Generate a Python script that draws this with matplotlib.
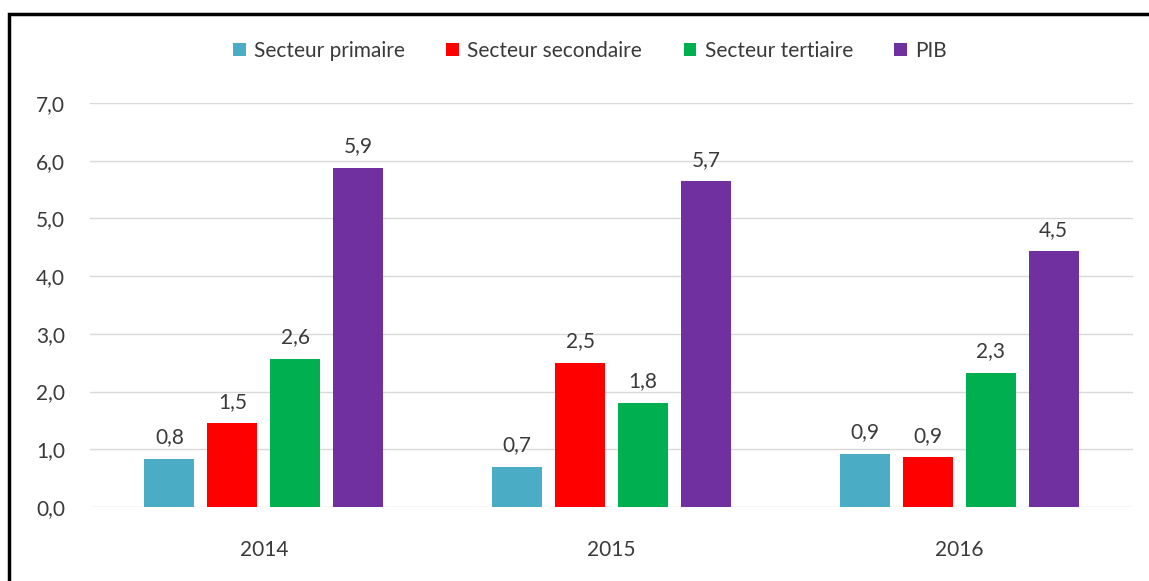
import numpy as np
import matplotlib
matplotlib.use('Agg')
import matplotlib.pyplot as plt
from matplotlib.patches import Rectangle

years = ['2014', '2015', '2016']
series = ['Secteur primaire', 'Secteur secondaire', 'Secteur tertiaire', 'PIB']
colors = ['#4bacc6', '#ff0000', '#00b050', '#7030a0']

primaire = [0.83, 0.70, 0.92]
secondaire = [1.45, 2.50, 0.86]
tertiaire = [2.57, 1.81, 2.33]
pib = [5.88, 5.64, 4.43]

labels_primaire = ['0,8', '0,7', '0,9']
labels_secondaire = ['1,5', '2,5', '0,9']
labels_tertiaire = ['2,6', '1,8', '2,3']
labels_pib = ['5,9', '5,7', '4,5']

values = [primaire, secondaire, tertiaire, pib]
labels = [labels_primaire, labels_secondaire, labels_tertiaire, labels_pib]

plt.rcParams['font.family'] = ['Lato', 'DejaVu Sans']
txt = '#3a3a3a'

fig = plt.figure(figsize=(11.49, 5.81), dpi=100)
ax = fig.add_axes([90/1149, 1 - 507/581, 1043/1149, 404/581])

x = np.arange(len(years))
w = 0.144
step = 0.181
for i, (vals, labs) in enumerate(zip(values, labels)):
    pos = x + (i - 1.5) * step
    ax.bar(pos, vals, w, color=colors[i], label=series[i], zorder=3)
    for p, v, l in zip(pos, vals, labs):
        ax.text(p, v + 0.2, l, ha='center', va='bottom', fontsize=15, color=txt)

ax.set_xlim(-0.5, 2.5)
ax.set_ylim(0, 7)
ax.set_yticks(np.arange(0, 8))
ax.set_yticklabels([f'{v:.1f}'.replace('.', ',') for v in range(8)], fontsize=15, color=txt)
ax.set_xticks(x)
ax.set_xticklabels(years, fontsize=15, color=txt)
ax.tick_params(axis='y', length=0, pad=18)
ax.tick_params(axis='x', length=0, pad=24)
ax.grid(axis='y', color='#d9d9d9', lw=1, zorder=0)
for s in ax.spines.values():
    s.set_visible(False)

leg = fig.legend(loc='center', bbox_to_anchor=(590/1149, 1 - 51/581), ncol=4, frameon=False,
                 fontsize=15, handlelength=0.6, handleheight=0.6, handletextpad=0.4,
                 columnspacing=2.0)
for t in leg.get_texts():
    t.set_color(txt)

fig.patches.append(Rectangle((9/1149, -0.05), 1.2, 1 - 14/581 + 0.05, transform=fig.transFigure,
                             fill=False, ec='black', lw=2.5))

fig.savefig('out.png', dpi=100)
